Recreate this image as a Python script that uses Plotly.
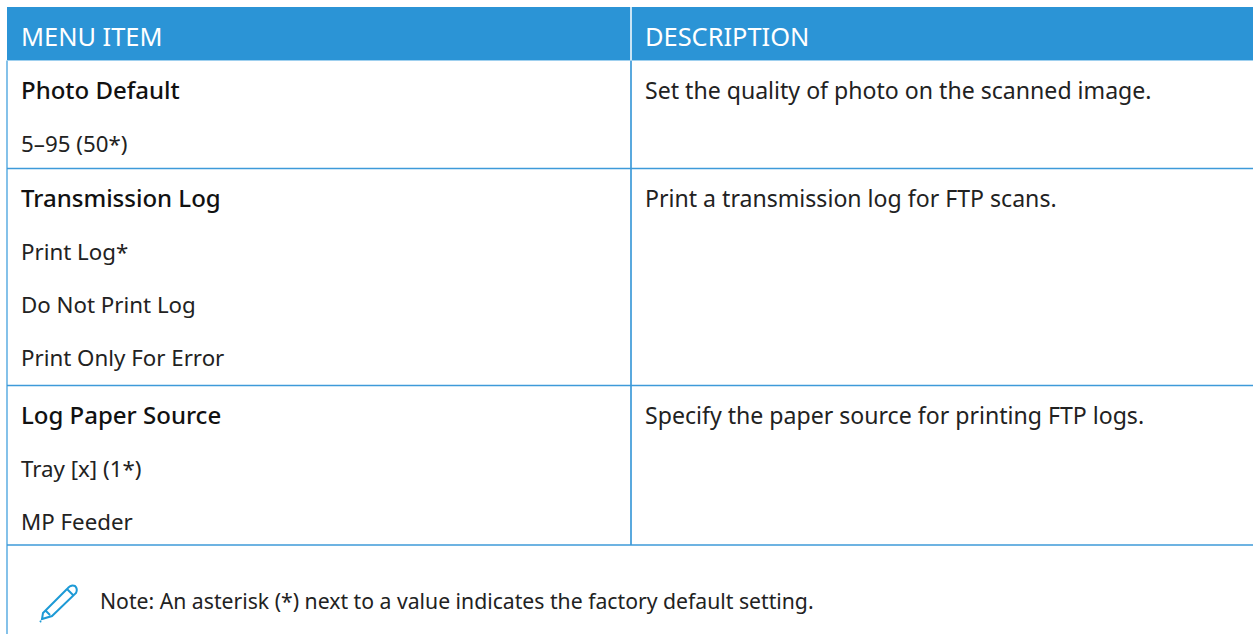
import plotly.graph_objects as go

W, H = 1253, 634
HEADERS = ["MENU ITEM", "DESCRIPTION"]
ROW_TITLES = ["Photo Default", "Transmission Log", "Log Paper Source"]
ROW_OPTIONS = [["5–95 (50*)"],
               ["Print Log*", "Do Not Print Log", "Print Only For Error"],
               ["Tray [x] (1*)", "MP Feeder"]]
ROW_DESC = ["Set the quality of photo on the scanned image.",
            "Print a transmission log for FTP scans.",
            "Specify the paper source for printing FTP logs."]
NOTE = "Note: An asterisk (*) next to a value indicates the factory default setting."

BLUE = "#2b94d6"
LINE = "#3d9ad9"
PALE = "#6fb7e6"
INK = "#222222"
FONT = "Noto Sans"
SIZE_OPTION = 22.3
SIZE_TITLE = 24
SIZE_DESC = 23.1
SIZE_HEAD = 25.4
SIZE_NOTE = 21.2

LEFT, TOP, HEAD_B, COL, ROW_END = 7, 7, 60.5, 631, 545
COL1_X, COL2_X = 19, 643
ROW_TOPS = [60.5, 168.5, 385.5]
ROW_BOTTOMS = [168.5, 385.5, 545]
LINE_H = 53
FIRST_OFFSET = 30
TITLE_NUDGE = -1

shapes = [
    dict(type="rect", x0=LEFT, x1=W, y0=TOP, y1=HEAD_B, fillcolor=BLUE, line_width=0, layer="below"),
    dict(type="line", x0=COL, x1=COL, y0=TOP, y1=HEAD_B, line=dict(color="white", width=1.5)),
    dict(type="line", x0=COL, x1=COL, y0=HEAD_B, y1=ROW_END, line=dict(color=LINE, width=1.7)),
    dict(type="line", x0=LEFT, x1=LEFT, y0=HEAD_B, y1=H, line=dict(color=PALE, width=1.7)),
    dict(type="line", x0=LEFT, x1=W, y0=HEAD_B, y1=HEAD_B, line=dict(color="#9fd0ef", width=1.2)),
]
ann = []
def txt(x, y, s, size, color=INK, weight=400):
    ann.append(dict(x=x, y=y, text=s, showarrow=False,
                    xanchor="left", yanchor="middle", xref="x", yref="y", align="left",
                    font=dict(family=FONT, size=size, color=color, weight=weight)))

txt(COL1_X, 36, HEADERS[0], SIZE_HEAD, "white")
txt(COL2_X, 36, HEADERS[1], SIZE_HEAD, "white")

for top, bottom, title, opts, desc in zip(ROW_TOPS, ROW_BOTTOMS, ROW_TITLES, ROW_OPTIONS, ROW_DESC):
    y = top + FIRST_OFFSET
    txt(COL1_X, y + TITLE_NUDGE, title, SIZE_TITLE, "#111111", 500)
    txt(COL2_X, y + TITLE_NUDGE, desc, SIZE_DESC)
    for i, o in enumerate(opts):
        txt(COL1_X, y + (i + 1) * LINE_H, o, SIZE_OPTION)
    shapes.append(dict(type="line", x0=LEFT, x1=W, y0=bottom, y1=bottom, line=dict(color=LINE, width=1.7)))

txt(98, 600, NOTE, SIZE_NOTE)

pencil = ("M 43 613 L 67 589 Q 71 584 75 586 Q 78 589 76 593 L 52 616 L 42 619 Z "
          "M 45 610 L 50 615 M 41 621 L 40 622 M 67 589 L 73 595")
shapes.append(dict(type="path", path=pencil, line=dict(color="#1d9ad6", width=2)))

fig = go.Figure()
fig.update_layout(width=W, height=H, margin=dict(l=0, r=0, t=0, b=0),
                  paper_bgcolor="white", plot_bgcolor="white",
                  xaxis=dict(range=[0, W], visible=False, fixedrange=True),
                  yaxis=dict(range=[H, 0], visible=False, fixedrange=True),
                  shapes=shapes, annotations=ann, showlegend=False)
fig.write_html("out.html", post_script="document.body.style.margin='0';",
               config=dict(displayModeBar=False))
